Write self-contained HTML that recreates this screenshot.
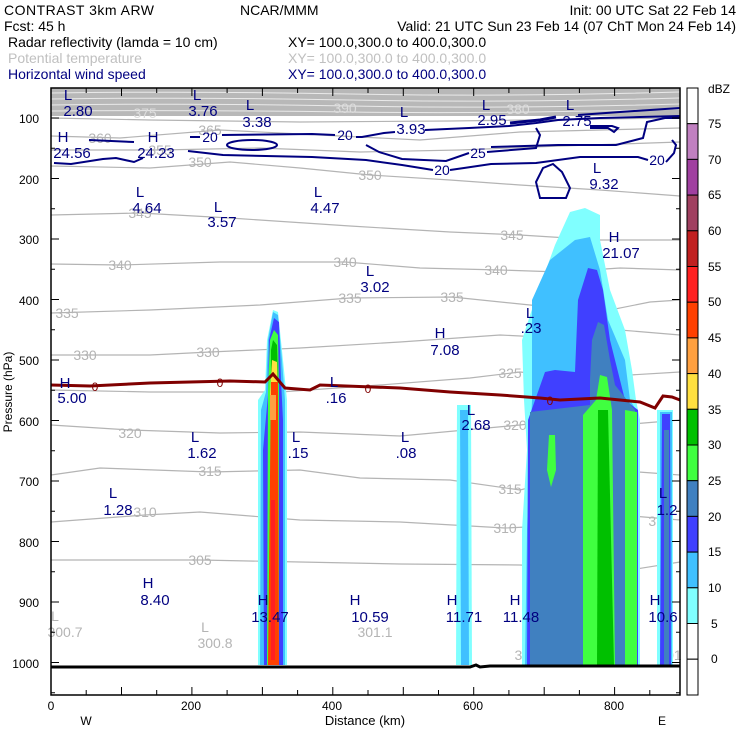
<!DOCTYPE html>
<html><head><meta charset="utf-8"><style>
html,body{margin:0;padding:0;background:#fff}
svg{display:block}
text{font-family:"Liberation Sans",sans-serif}
</style></head><body>
<svg width="740" height="740" viewBox="0 0 740 740" xmlns="http://www.w3.org/2000/svg">
<!-- header -->
<g font-size="14" fill="#000">
<text x="4" y="15" textLength="150">CONTRAST  3km ARW</text>
<text x="240" y="15">NCAR/MMM</text>
<text x="736" y="15" text-anchor="end">Init: 00 UTC Sat 22 Feb 14</text>
<text x="4" y="31">Fcst:   45 h</text>
<text x="736" y="31" text-anchor="end">Valid: 21 UTC Sun 23 Feb 14 (07 ChT Mon 24 Feb 14)</text>
<text x="8" y="47">Radar reflectivity (lamda = 10 cm)</text>
<text x="288" y="47">XY= 100.0,300.0 to 400.0,300.0</text>
<text x="8" y="63" fill="#c0c0c0">Potential temperature</text>
<text x="288" y="63" fill="#c0c0c0">XY= 100.0,300.0 to 400.0,300.0</text>
<text x="8" y="79" fill="#000080">Horizontal wind speed</text>
<text x="288" y="79" fill="#000080">XY= 100.0,300.0 to 400.0,300.0</text>
</g>

<g>
<rect x="51" y="88" width="629" height="28" fill="#b8b8b8"/>
<g stroke="#fff" stroke-width="1" fill="none" opacity="0.7">
<path d="M51 93 Q200 91 350 94 T680 92"/>
<path d="M51 99 Q200 97 350 100 T680 98"/>
<path d="M51 105 Q200 103 350 106 T680 104"/>
<path d="M51 111 Q200 110 350 112 T680 109"/>
</g>

<g stroke="#b4b4b4" stroke-width="1.2" fill="none">
<path d="M51 118 L150 120 L300 122 L450 121 L680 118"/>
<path d="M51 136 L120 138 L220 130 L300 134 L420 140 L520 132 L680 128"/>
<path d="M51 150 L160 150 L260 148 L360 152 L460 150 L560 146 L680 142"/>
<path d="M51 166 L150 168 L230 162 L300 168 L370 175 L450 180 L520 185 L600 190 L680 196"/>
<path d="M51 215 L140 213 L230 218 L350 226 L450 232 L520 235 L600 240 L680 240"/>
<path d="M51 264 L120 265 L220 262 L345 262 L420 268 L500 270 L560 272 L620 268 L680 270"/>
<path d="M51 313 L150 310 L260 305 L350 298 L452 297 L530 305 L600 312 L650 302 L680 300"/>
<path d="M51 355 L150 355 L210 352 L300 348 L400 342 L500 335 L560 338 L620 330 L680 335"/>
<path d="M51 390 L150 392 L280 392 L380 385 L470 378 L520 372 L580 378 L680 372"/>
<path d="M51 425 L130 430 L220 433 L300 432 L400 436 L520 425 L560 420 L620 425 L680 420"/>
<path d="M51 475 L100 468 L210 472 L300 470 L360 478 L450 480 L520 490 L560 480 L610 470 L680 475"/>
<path d="M51 522 L145 515 L200 512 L300 520 L400 522 L505 528 L570 525 L620 515 L680 520"/>
<path d="M51 560 L200 560 L300 562 L400 564 L520 565 L580 568 L630 570 L680 562"/>
</g>
<g font-size="14" fill="#b4b4b4" text-anchor="middle">
<text x="145" y="118" fill="#ddd">375</text>
<text x="345" y="113" fill="#ddd">390</text>
<text x="518" y="114" fill="#ddd">380</text>
<text x="100" y="143">360</text>
<text x="210" y="135">365</text>
<text x="160" y="155">355</text>
<text x="200" y="167">350</text>
<text x="370" y="180">350</text>
<text x="140" y="218">345</text>
<text x="512" y="240">345</text>
<text x="120" y="270">340</text>
<text x="345" y="267">340</text>
<text x="496" y="275">340</text>
<text x="67" y="318">335</text>
<text x="350" y="303">335</text>
<text x="452" y="302">335</text>
<text x="85" y="360">330</text>
<text x="208" y="357">330</text>
<text x="510" y="378">325</text>
<text x="130" y="438">320</text>
<text x="515" y="430">320</text>
<text x="210" y="476">315</text>
<text x="510" y="494">315</text>
<text x="145" y="517">310</text>
<text x="505" y="533">310</text>
<text x="660" y="526">310</text>
<text x="200" y="565">305</text>
<text x="55" y="621">L</text>
<text x="65" y="637">300.7</text>
<text x="205" y="632">L</text>
<text x="215" y="648">300.8</text>
<text x="375" y="637">301.1</text>
<text x="528" y="645">L</text>
<text x="532" y="660">300.9</text>
<text x="662" y="645">L</text>
<text x="670" y="660">301</text>
</g>

<!-- reflectivity right storm -->
<path d="M570 212 L585 208 L600 215 L600 240 L610 290 L625 330 L632 370 L636 400 L640 420 L640 665 L522 665 L522 530 L527 450 L524 400 L522 340 L535 300 L555 245 Z" fill="#80ffff"/>
<path d="M457 405 L471 405 L472 665 L456 665 Z" fill="#80ffff"/>
<path d="M657 410 L673 410 L673 665 L657 665 Z" fill="#80ffff"/>
<path d="M575 240 L590 237 L600 270 L608 320 L625 360 L630 400 L636 410 L636 665 L525 665 L527 530 L530 450 L532 400 L532 300 L550 260 Z" fill="#40c0ff"/>
<path d="M460 410 L468 410 L469 665 L461 665 Z" fill="#40c0ff"/>
<path d="M660 412 L672 412 L672 665 L660 665 Z" fill="#40c0ff"/>
<path d="M588 268 L597 270 L603 290 L610 340 L625 400 L638 410 L638 665 L527 665 L528 420 L545 372 L555 370 L575 372 L578 300 Z" fill="#4040ff"/>
<path d="M662 414 L670 414 L671 665 L660 665 Z" fill="#4040ff"/>
<path d="M598 322 L604 325 L610 360 L615 385 L635 410 L635 665 L530 665 L530 412 L590 405 L590 380 L592 340 Z" fill="#4080c0"/>
<path d="M664 430 L669 430 L669 665 L664 665 Z" fill="#4080c0"/>
<path d="M600 375 L607 377 L612 410 L615 665 L583 665 L583 415 L596 400 Z" fill="#40ff40"/>
<path d="M625 410 L637 412 L637 665 L625 665 Z" fill="#40ff40"/>
<path d="M549 435 L555 435 L556 470 L551 487 L547 470 Z" fill="#40ff40"/>
<path d="M598 410 L608 410 L614 665 L597 665 Z" fill="#00c000"/>

<!-- left tower -->
<path d="M273 310 L278 312 L283 360 L287 400 L287 665 L258 665 L258 400 L265 390 L267 340 Z" fill="#80ffff"/>
<path d="M273 312 L278 315 L282 360 L285 400 L285 665 L260 665 L261 410 L266 392 L268 340 Z" fill="#40c0ff"/>
<path d="M274 318 L279 322 L281 380 L283 420 L283 665 L264 665 L263 450 L268 395 L269 340 Z" fill="#4040ff"/>
<path d="M274 330 L278 335 L279 390 L279 665 L267 665 L268 390 L270 340 Z" fill="#40ff40"/>
<path d="M273 340 L277 345 L278 380 L271 380 L271 350 Z" fill="#00c000"/>
<path d="M272 360 L277 362 L278 395 L270 395 Z" fill="#ffe040"/>
<path d="M271 382 L278 382 L279 665 L268 665 Z" fill="#ff4000"/>
<path d="M270 395 L276 395 L276 420 L270 420 Z" fill="#ffa040"/>
<path d="M271 500 L275 500 L275 660 L271 660 Z" fill="#ff2020"/>

<!-- wind contours -->
<g stroke="#000080" stroke-width="2" fill="none">
<path d="M54 163 L71 164 L103 159 L116 158 L134 162 L143 158"/>
<path d="M188 151 L223 155 L312 157 L366 160 L402 165 L433 170"/>
<path d="M450 170 L464 168 L491 164 L536 163 L580 157 L638 157 L648 160"/>
<path d="M666 162 L674 153 L676 145 L672 140"/>
<path d="M366 145 L379 152 L402 159 L446 161 L469 153"/>
<path d="M487 152 L536 148 L540 135 L536 128"/>
<path d="M190 137 L200 137"/>
<path d="M222 135 L312 134 L335 135"/>
<path d="M356 137 L362 137 L384 133 L395 132"/>
<path d="M425 130 L469 128 L509 126 L536 123 L558 120 L600 118 L640 117 L680 116"/>
<path d="M491 147 L558 145 L616 145 L643 138 L647 122 L665 118 L680 118"/>
<path d="M510 123 L540 120 L556 117" stroke-width="3"/>
<path d="M578 115 L620 112 L680 108"/>
<path d="M590 126 L612 126 L618 128 L614 132 L608 128 L590 128"/>
<path d="M89 140 L134 142"/>
<ellipse cx="252" cy="145" rx="25" ry="5"/>
<path d="M540 198 L536 182 L543 168 L553 164 L562 172 L570 188 L566 198 Z"/>
</g>
<g font-size="14" fill="#000080" text-anchor="middle">
<text x="210" y="142">20</text>
<text x="345" y="140">20</text>
<text x="442" y="175">20</text>
<text x="478" y="158">25</text>
<text x="657" y="165">20</text>
</g>

<path d="M51 385 L90 386 L150 383 L230 381 L265 382 L273 374 L285 388 L310 390 L320 385 L400 388 L450 392 L500 395 L540 398 L560 400 L600 398 L620 400 L640 402 L655 408 L663 396 L672 397 L680 400" stroke="#800000" stroke-width="3" fill="none"/>
<g font-size="12" fill="#800000" text-anchor="middle">
<text x="95" y="391">0</text>
<text x="220" y="387">0</text>
<text x="368" y="393">0</text>
<text x="550" y="405">0</text>
</g>

<g font-size="15" fill="#000080" text-anchor="middle">
<text x="68" y="100">L</text><text x="78" y="116">2.80</text>
<text x="197" y="100">L</text><text x="203" y="116">3.76</text>
<text x="250" y="110">L</text><text x="257" y="127">3.38</text>
<text x="404" y="117">L</text><text x="411" y="134">3.93</text>
<text x="486" y="110">L</text><text x="492" y="125">2.95</text>
<text x="570" y="110">L</text><text x="577" y="126">2.75</text>
<text x="63" y="142">H</text><text x="72" y="158">24.56</text>
<text x="153" y="142">H</text><text x="156" y="158">24.23</text>
<text x="597" y="173">L</text><text x="604" y="189">9.32</text>
<text x="140" y="197">L</text><text x="147" y="213">4.64</text>
<text x="218" y="212">L</text><text x="222" y="227">3.57</text>
<text x="318" y="197">L</text><text x="325" y="213">4.47</text>
<text x="614" y="242">H</text><text x="621" y="258">21.07</text>
<text x="370" y="276">L</text><text x="375" y="292">3.02</text>
<text x="530" y="318">L</text><text x="531" y="333">.23</text>
<text x="440" y="338">H</text><text x="445" y="355">7.08</text>
<text x="65" y="388">H</text><text x="72" y="403">5.00</text>
<text x="334" y="387">L</text><text x="336" y="403">.16</text>
<text x="471" y="415">L</text><text x="476" y="430">2.68</text>
<text x="195" y="442">L</text><text x="202" y="458">1.62</text>
<text x="296" y="442">L</text><text x="298" y="458">.15</text>
<text x="405" y="442">L</text><text x="406" y="458">.08</text>
<text x="113" y="498">L</text><text x="118" y="515">1.28</text>
<text x="663" y="498">L</text><text x="667" y="515">1.2</text>
<text x="148" y="588">H</text><text x="155" y="605">8.40</text>
<text x="263" y="605">H</text><text x="270" y="622">13.47</text>
<text x="355" y="605">H</text><text x="370" y="622">10.59</text>
<text x="452" y="605">H</text><text x="464" y="622">11.71</text>
<text x="515" y="605">H</text><text x="521" y="622">11.48</text>
<text x="655" y="605">H</text><text x="663" y="622">10.6</text>
</g>

<path d="M51 667 L470 667 L476 665 L480 667 L490 666 L680 666" stroke="#000" stroke-width="3" fill="none"/>
</g>

<rect x="51" y="88" width="629" height="607" fill="none" stroke="#000" stroke-width="1.5"/>
<g stroke="#000" stroke-width="1">
<path d="M51 118h8M51 148.3h4M51 178.5h8M51 208.8h4M51 239h8M51 269.3h4M51 299.5h8M51 329.8h4M51 360h8M51 390.3h4M51 420.5h8M51 450.8h4M51 481h8M51 511.3h4M51 541.5h8M51 571.8h4M51 602h8M51 632.3h4M51 662.5h8M51 692.8h4"/>
<path d="M680 118h-8M680 148.3h-4M680 178.5h-8M680 208.8h-4M680 239h-8M680 269.3h-4M680 299.5h-8M680 329.8h-4M680 360h-8M680 390.3h-4M680 420.5h-8M680 450.8h-4M680 481h-8M680 511.3h-4M680 541.5h-8M680 571.8h-4M680 602h-8M680 632.3h-4M680 662.5h-8M680 692.8h-4"/>
<path d="M86.2 695v-5M121.5 695v-8M156.7 695v-5M191.9 695v-8M227.1 695v-5M262.4 695v-8M297.6 695v-5M332.8 695v-8M368 695v-5M403.3 695v-8M438.5 695v-5M473.7 695v-8M508.9 695v-5M544.2 695v-8M579.4 695v-5M614.6 695v-8M649.8 695v-5"/>
<path d="M86.2 88v5M121.5 88v8M156.7 88v5M191.9 88v8M227.1 88v5M262.4 88v8M297.6 88v5M332.8 88v8M368 88v5M403.3 88v8M438.5 88v5M473.7 88v8M508.9 88v5M544.2 88v8M579.4 88v5M614.6 88v8M649.8 88v5"/>
</g>
<g font-size="12" fill="#000">
<g text-anchor="end">
<text x="39" y="123">100</text><text x="39" y="184">200</text><text x="39" y="244">300</text><text x="39" y="305">400</text><text x="39" y="365">500</text><text x="39" y="426">600</text><text x="39" y="486">700</text><text x="39" y="547">800</text><text x="39" y="607">900</text><text x="39" y="668">1000</text>
</g>
<g text-anchor="middle">
<text x="51" y="710">0</text><text x="191" y="710">200</text><text x="332" y="710">400</text><text x="473" y="710">600</text><text x="614" y="710">800</text>
<text x="86" y="725">W</text><text x="662" y="725">E</text>
<text x="365" y="725" font-size="13">Distance (km)</text>
</g>
<text transform="translate(12 392) rotate(-90)" text-anchor="middle" font-size="12">Pressure (hPa)</text>
</g>

<g stroke="#000" stroke-width="1">
<rect x="687" y="88" width="11" height="35.7" fill="#fff"/>
<rect x="687" y="123.7" width="11" height="35.7" fill="#c080c0"/>
<rect x="687" y="159.4" width="11" height="35.7" fill="#a040a0"/>
<rect x="687" y="195.1" width="11" height="35.7" fill="#a04060"/>
<rect x="687" y="230.8" width="11" height="35.7" fill="#c02020"/>
<rect x="687" y="266.5" width="11" height="35.7" fill="#ff2020"/>
<rect x="687" y="302.2" width="11" height="35.7" fill="#ff4000"/>
<rect x="687" y="337.9" width="11" height="35.7" fill="#ffa040"/>
<rect x="687" y="373.6" width="11" height="35.7" fill="#ffe040"/>
<rect x="687" y="409.3" width="11" height="35.7" fill="#00c000"/>
<rect x="687" y="445" width="11" height="35.7" fill="#40ff40"/>
<rect x="687" y="480.7" width="11" height="35.7" fill="#4080c0"/>
<rect x="687" y="516.4" width="11" height="35.7" fill="#4040ff"/>
<rect x="687" y="552.1" width="11" height="35.7" fill="#40c0ff"/>
<rect x="687" y="587.8" width="11" height="35.7" fill="#80ffff"/>
<rect x="687" y="623.5" width="11" height="35.7" fill="#fff"/>
<rect x="687" y="659.2" width="11" height="35.8" fill="#fff"/>
</g>
<g font-size="12" fill="#000">
<text x="708" y="93">dBZ</text>
<text x="708" y="128">75</text><text x="708" y="164">70</text><text x="708" y="199">65</text><text x="708" y="235">60</text><text x="708" y="271">55</text><text x="708" y="306">50</text><text x="708" y="342">45</text><text x="708" y="378">40</text><text x="708" y="414">35</text><text x="708" y="449">30</text><text x="708" y="485">25</text><text x="708" y="521">20</text><text x="708" y="556">15</text><text x="708" y="592">10</text><text x="711" y="628">5</text><text x="711" y="663">0</text>
</g>
</svg>
</body></html>
